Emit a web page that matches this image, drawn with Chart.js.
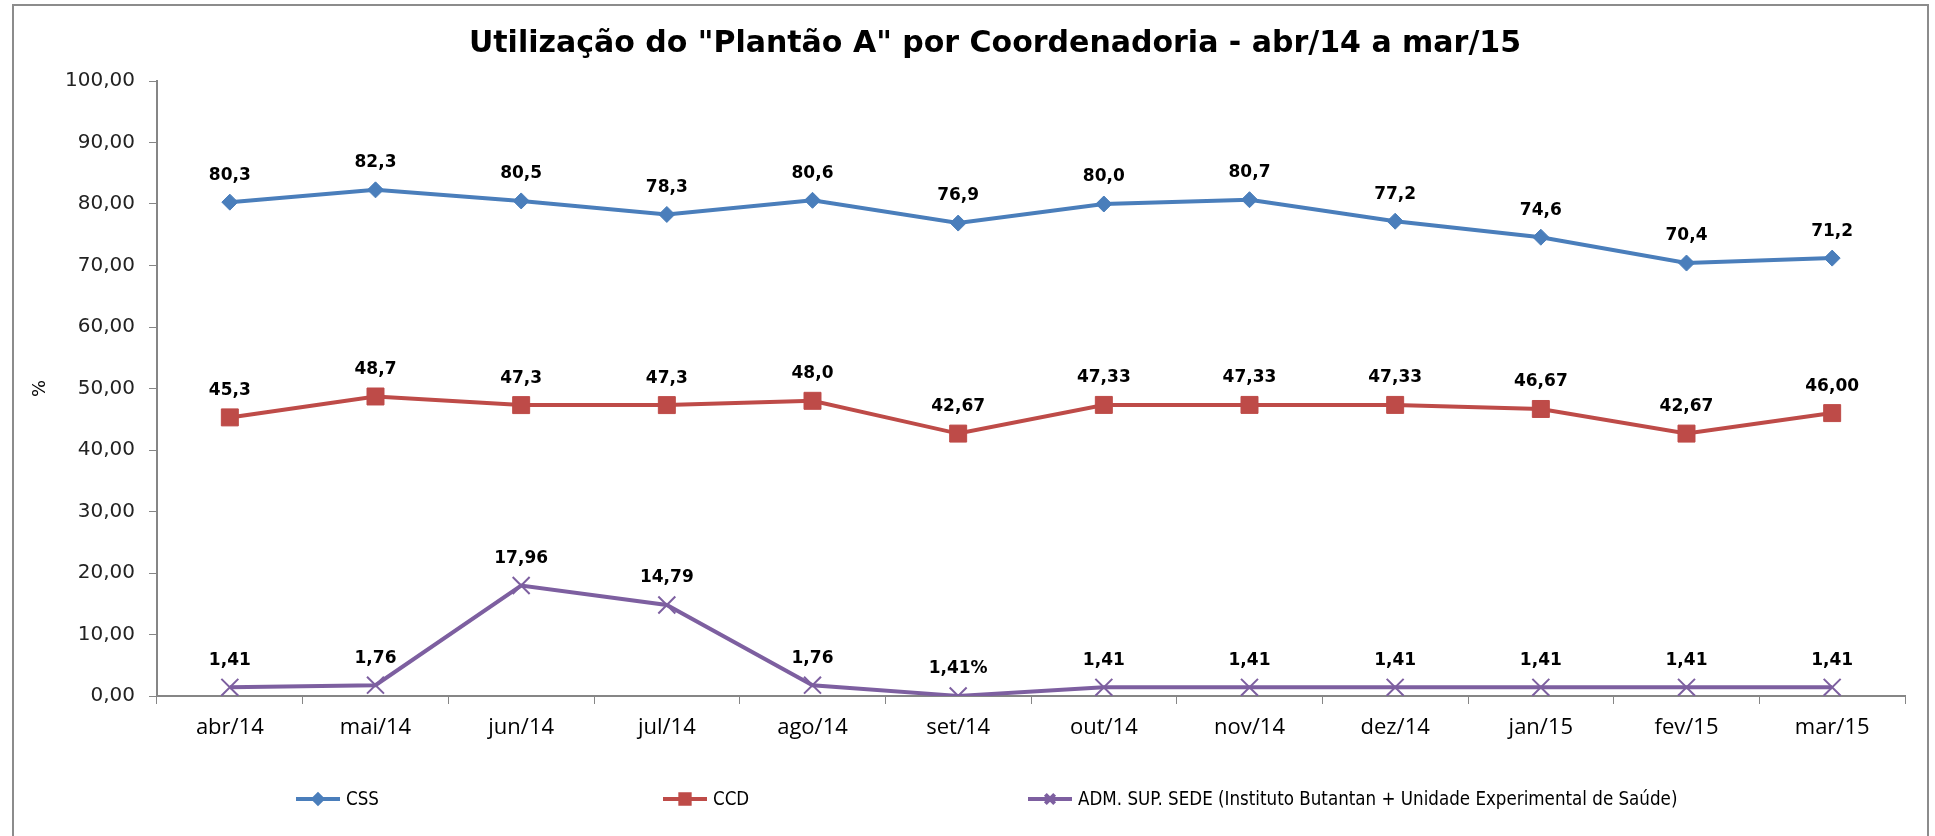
<!DOCTYPE html>
<html>
<head>
<meta charset="utf-8">
<script src="https://cdn.jsdelivr.net/npm/chart.js@4.4.0/dist/chart.umd.min.js"></script>
<style>
  html, body { margin: 0; padding: 0; background: #fff; }
  #wrap { width: 1935px; height: 836px; position: relative; }
</style>
</head>
<body>
<div id="wrap"><canvas id="plantaoChart"></canvas></div>
<script>
// Utilização do "Plantão A" por Coordenadoria - abr/14 a mar/15
const months = ['abr/14', 'mai/14', 'jun/14', 'jul/14', 'ago/14', 'set/14',
                'out/14', 'nov/14', 'dez/14', 'jan/15', 'fev/15', 'mar/15'];

const cssValues = [80.3, 82.3, 80.5, 78.3, 80.6, 76.9, 80.0, 80.7, 77.2, 74.6, 70.4, 71.2];
const ccdValues = [45.3, 48.7, 47.3, 47.3, 48.0, 42.67, 47.33, 47.33, 47.33, 46.67, 42.67, 46.00];
const admValues = [1.41, 1.76, 17.96, 14.79, 1.76, 0.0141, 1.41, 1.41, 1.41, 1.41, 1.41, 1.41];

const cssLabels = ['80,3', '82,3', '80,5', '78,3', '80,6', '76,9', '80,0', '80,7', '77,2', '74,6', '70,4', '71,2'];
const ccdLabels = ['45,3', '48,7', '47,3', '47,3', '48,0', '42,67', '47,33', '47,33', '47,33', '46,67', '42,67', '46,00'];
const admLabels = ['1,41', '1,76', '17,96', '14,79', '1,76', '1,41%', '1,41', '1,41', '1,41', '1,41', '1,41', '1,41'];

const seriesNames = ['CSS', 'CCD', 'ADM. SUP. SEDE (Instituto Butantan + Unidade Experimental de Saúde)'];
const yMin = 0, yMax = 100, yStep = 10;

const BLUE = '#4A7EBB', RED = '#BE4B48', PURPLE = '#7D5FA0', AXIS = '#868686';

// frame, title, point labels and legend
const decorations = {
    id: 'decorations',
    beforeDraw(chart) {
        const c = chart.ctx;
        c.save();
        c.fillStyle = '#fff';
        c.fillRect(0, 0, chart.width, chart.height);
        c.strokeStyle = '#8c8c8c';
        c.lineWidth = 2;
        c.strokeRect(13, 5, 1915, 850);
        c.restore();
    },
    afterDatasetsDraw(chart) {
        const c = chart.ctx;
        c.save();
        c.font = 'bold 17px "DejaVu Sans"';
        c.fillStyle = '#000';
        c.textAlign = 'center';
        c.textBaseline = 'middle';
        chart.data.datasets.forEach((ds, i) => {
            chart.getDatasetMeta(i).data.forEach((pt, j) => {
                c.fillText(ds.pointLabels[j], pt.x, pt.y - 27);
            });
        });
        c.restore();
    },
    afterDraw(chart) {
        const c = chart.ctx;
        c.save();
        c.fillStyle = '#000';
        c.textAlign = 'center';
        c.textBaseline = 'middle';
        c.font = 'bold 30px "DejaVu Sans"';
        c.fillText('Utilização do "Plantão A" por Coordenadoria - abr/14 a mar/15', 995, 44);

        // legend
        const starts = [296, 663, 1028];
        const y = 799;
        c.font = '18.6px "Liberation Sans Narrow", "DejaVu Sans Condensed", sans-serif';
        c.textAlign = 'left';
        chart.data.datasets.forEach((ds, i) => {
            const x = starts[i];
            c.strokeStyle = ds.borderColor;
            c.lineWidth = 4;
            c.beginPath();
            c.moveTo(x, y);
            c.lineTo(x + 44, y);
            c.stroke();
            c.fillStyle = ds.pointBackgroundColor;
            c.strokeStyle = ds.pointBorderColor;
            Chart.helpers.drawPoint(c, {
                pointStyle: ds.pointStyle,
                radius: ds.pointRadius * 0.55,
                rotation: 0,
                borderWidth: ds.pointBorderWidth
            }, x + 22, y);
            c.fillStyle = '#000';
            c.fillText(ds.label, x + 50, y + 1);
        });
        c.restore();
    }
};

new Chart(document.getElementById('plantaoChart'), {
    type: 'line',
    data: {
        labels: months,
        datasets: [
            {
                label: seriesNames[0],
                data: cssValues,
                pointLabels: cssLabels,
                borderColor: BLUE,
                backgroundColor: BLUE,
                pointBackgroundColor: BLUE,
                pointBorderColor: BLUE,
                borderWidth: 4,
                pointStyle: 'rectRot',
                pointRadius: 8,
                pointBorderWidth: 1,
                tension: 0
            },
            {
                label: seriesNames[1],
                data: ccdValues,
                pointLabels: ccdLabels,
                borderColor: RED,
                backgroundColor: RED,
                pointBackgroundColor: RED,
                pointBorderColor: RED,
                borderWidth: 4,
                pointStyle: 'rect',
                pointRadius: 12,
                pointBorderWidth: 1,
                tension: 0
            },
            {
                label: seriesNames[2],
                data: admValues,
                pointLabels: admLabels,
                borderColor: PURPLE,
                backgroundColor: PURPLE,
                pointBackgroundColor: PURPLE,
                pointBorderColor: PURPLE,
                borderWidth: 4,
                pointStyle: 'crossRot',
                pointRadius: 12,
                pointBorderWidth: 2,
                tension: 0
            }
        ]
    },
    options: {
        responsive: true,
        maintainAspectRatio: false,
        animation: false,
        layout: { padding: { top: 81, right: 30, left: 0, bottom: 0 } },
        plugins: {
            legend: { display: false },
            title: { display: false },
            tooltip: { enabled: false }
        },
        scales: {
            x: {
                offset: true,
                grid: {
                    offset: true,
                    drawOnChartArea: false,
                    drawTicks: true,
                    tickLength: 8,
                    color: AXIS
                },
                border: { color: AXIS, width: 2 },
                ticks: {
                    color: '#000',
                    padding: 11,
                    maxRotation: 0,
                    font: { family: 'Open Sans', size: 22 }
                },
                afterFit(scale) { scale.height = 140; }
            },
            y: {
                min: yMin,
                max: yMax,
                grid: {
                    drawOnChartArea: false,
                    drawTicks: true,
                    tickLength: 8,
                    color: AXIS
                },
                border: { color: AXIS, width: 2 },
                ticks: {
                    stepSize: yStep,
                    color: '#222',
                    padding: 14,
                    font: { family: 'DejaVu Sans', size: 20 },
                    callback: v => v.toFixed(2).replace('.', ',')
                },
                title: {
                    display: true,
                    text: '%',
                    color: '#000',
                    padding: { top: 30, bottom: 0 },
                    font: { family: 'DejaVu Sans', size: 18 }
                },
                afterFit(scale) { scale.width = 157; }
            }
        }
    },
    plugins: [decorations]
});
</script>
</body>
</html>
